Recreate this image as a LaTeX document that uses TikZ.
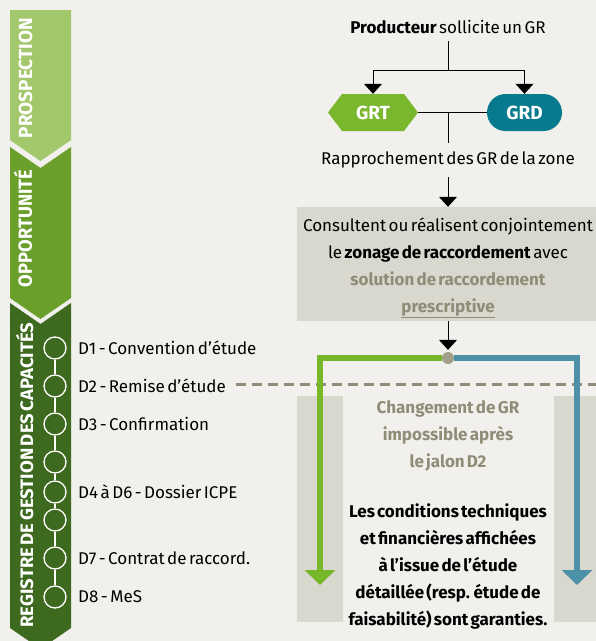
\documentclass[tikz,border=0pt]{standalone}
\usepackage{fontspec}
\setmainfont{Fira Sans}[WordSpace=0.55]
\usetikzlibrary{arrows.meta}
\definecolor{bg}{HTML}{F1F0EC}
\definecolor{lgreen}{HTML}{A2C86B}
\definecolor{mgreen}{HTML}{6A9F2B}
\definecolor{dgreen}{HTML}{3D6A1E}
\definecolor{grtgreen}{HTML}{79B72D}
\definecolor{grdteal}{HTML}{087A8D}
\definecolor{boxgray}{HTML}{D9D8CE}
\definecolor{olive}{HTML}{8F8D78}
\definecolor{dotgray}{HTML}{A19F8A}
\definecolor{tealline}{HTML}{4C91A7}
\definecolor{greenline}{HTML}{77B82B}
\tikzset{
  phase/.style={text=white, font=\bfseries\fontsize{19}{19}\selectfont, rotate=90, anchor=base, inner sep=0pt},
  mile/.style={circle, draw=white, line width=1.3pt, fill=dgreen, minimum size=22pt, inner sep=0pt},
  milelabel/.style={anchor=west, font=\fontsize{17}{19}\selectfont, inner sep=0pt},
  flowtxt/.style={font=\fontsize{17}{19}\selectfont, inner sep=0pt},
  blackarrow/.style={line width=1pt, -{Triangle[width=18pt,length=10pt]}},
  thinline/.style={line width=1pt},
}
\begin{document}
\begin{tikzpicture}[x=1pt,y=-1pt]
\useasboundingbox (0,0) rectangle (596,641);
\fill[bg] (0,0) rectangle (596,641);
% phase chevrons
\begin{scope}
\clip (0,0) rectangle (596,641);
\fill[lgreen] (10,10) -- (71,10) -- (71,140) -- (40.5,161) -- (10,140) -- cycle;
\fill[mgreen] (10,147) -- (40.5,168) -- (71,147) -- (71,298) -- (40.5,319) -- (10,298) -- cycle;
\fill[dgreen] (10,303) -- (40.5,324) -- (71,303) -- (71,628) -- (40.5,649) -- (10,628) -- cycle;
\end{scope}
\node[phase] (p1) at (32,78) {\resizebox{120pt}{\height}{PROSPECTION}};
\node[phase] (p2) at (32,228.5) {\resizebox{117pt}{\height}{OPPORTUNITÉ}};
\node[phase, font=\bfseries\fontsize{18}{18}\selectfont] (p3) at (33,475) {\resizebox{305pt}{\height}{REGISTRE DE GESTION DES CAPACITÉS}};
% milestones
\node[mile] (m1) at (55,348) {};
\node[mile] (m2) at (55,386) {};
\node[mile] (m3) at (55,424) {};
\node[mile] (m4) at (55,462) {};
\node[mile] (m5) at (55,492) {};
\node[mile] (m6) at (55,520) {};
\node[mile] (m7) at (55,558) {};
\node[mile] (m8) at (55,597) {};
\foreach \a/\b in {m1/m2,m2/m3,m3/m4,m4/m5,m5/m6,m6/m7,m7/m8}
  \draw[white, line width=1.2pt] (\a.south) -- (\b.north);
\node[milelabel] (l1) at (78,348) {D1 - Convention d’étude};
\node[milelabel] (l2) at (78,386) {D2 - Remise d’étude};
\node[milelabel] (l3) at (78,424) {D3 - Confirmation};
\node[milelabel] (l5) at (78,492) {D4 à D6 - Dossier ICPE};
\node[milelabel] (l7) at (78,558) {D7 - Contrat de raccord.};
\node[milelabel] (l8) at (78,597) {D8 - MeS};
% lower box
\fill[boxgray] (297,396) rectangle (596,622);
\fill[bg] (343,396) rectangle (554,622);
\node[align=center, text=olive, font=\bfseries\fontsize{17}{27}\selectfont, inner sep=0pt] (chg) at (448,436)
  {Changement de GR\\impossible après\\le jalon D2};
\node[align=center, font=\bfseries\fontsize{17}{27}\selectfont, inner sep=0pt] (cond) at (448,566)
  {Les conditions techniques\\et financières affichées\\à l’issue de l’étude\\détaillée (resp. étude de\\faisabilité) sont garanties.};
% dashed D2 line
\coordinate (dEnd) at (596,384);
\draw[olive, line width=3pt, dash pattern=on 10pt off 6pt] ([xshift=10pt]l2.east |- dEnd) -- (dEnd);
% top flow
\node[flowtxt] (prod) at (448,27) {\textbf{Producteur} sollicite un GR};
\fill[grtgreen] (328,112.5) -- (342,94) -- (404,94) -- (418,112.5) -- (404,131) -- (342,131) -- cycle;
\node[minimum width=90pt, minimum height=37pt, inner sep=0pt, text=white, font=\bfseries\fontsize{19}{19}\selectfont] (grt) at (373,112.5) {GRT};
\node[fill=grdteal, rounded corners=18.5pt, minimum width=75pt, minimum height=37pt, inner sep=0pt, text=white, font=\bfseries\fontsize{19}{19}\selectfont] (grd) at (524.5,112.5) {GRD};
\coordinate (split) at (448,70);
\coordinate (join) at (448,112.5);
\draw[thinline] (448,41) -- (split);
\draw[blackarrow] (split) -| (grt.north);
\draw[blackarrow] (split) -| (grd.north);
\draw[thinline] (grt.east) -- (grd.west);
\node[flowtxt] (rap) at (448,160) {Rapprochement des GR de la zone};
\draw[thinline] (join) -- (448,143);
\node[fill=boxgray, minimum width=299pt, minimum height=114pt, inner sep=0pt] (box) at (446.5,264) {};
\node[align=center, font=\fontsize{17}{27}\selectfont, inner sep=0pt] (boxtxt) at (448,268)
  {Consultent ou réalisent conjointement\\le \textbf{zonage de raccordement} avec\\\textcolor{olive}{\textbf{solution de raccordement}}\\\textcolor{olive}{\textbf{\underline{prescriptive}}}};
\node[circle, fill=dotgray, minimum size=12pt, inner sep=0pt] (dot) at (448,358) {};
\draw[blackarrow] (448,177) -- (dot |- box.north);
\draw[blackarrow, shorten >=2pt] (dot |- box.south) -- (dot.north);
\coordinate (gEnd) at (320,585);
\coordinate (tEnd) at (577,585);
\draw[greenline, line width=5.5pt, -{Triangle[width=30pt,length=15pt]}] (dot.west) -| (gEnd);
\draw[tealline, line width=5.5pt, -{Triangle[width=30pt,length=15pt]}] (dot.east) -| (tEnd);
\end{tikzpicture}
\end{document}
